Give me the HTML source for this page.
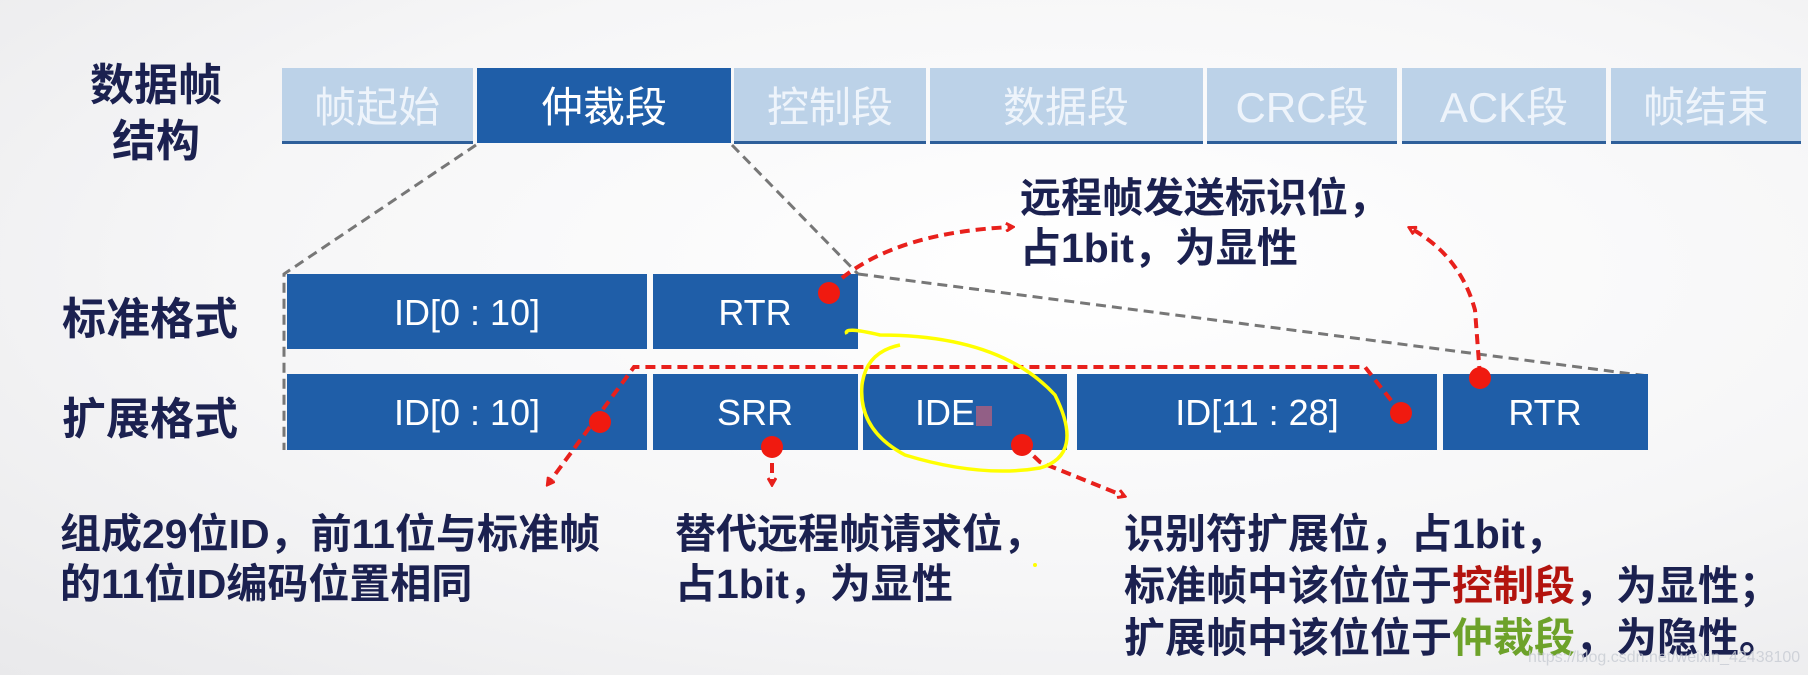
<!DOCTYPE html>
<html><head><meta charset="utf-8"><style>
html,body{margin:0;padding:0;}
body{width:1808px;height:675px;overflow:hidden;background:radial-gradient(ellipse at 60% 40%,#ffffff 0%,#f6f6f7 55%,#e9e9eb 100%);}
svg{display:block;}
text{font-family:"Liberation Sans","Noto Sans CJK SC",sans-serif;}
</style></head><body>
<svg width="1808" height="675" viewBox="0 0 1808 675" xmlns="http://www.w3.org/2000/svg">
<defs>
<marker id="ar" markerWidth="10" markerHeight="10" refX="7" refY="5" orient="auto" markerUnits="userSpaceOnUse">
<path d="M1,1 L8,5 L1,9" fill="none" stroke="#e8201c" stroke-width="3"/>
</marker>
</defs>
<!-- left labels -->
<g font-weight="bold" fill="#1b2150" font-size="44">
<text x="90" y="100">数据帧</text>
<text x="112" y="156">结构</text>
<text x="62" y="334">标准格式</text>
<text x="62" y="434">扩展格式</text>
</g>
<!-- top bar -->
<g>
<rect x="282" y="68" width="191" height="75" fill="#bcd2e8"/>
<rect x="477" y="68" width="254" height="75" fill="#1f5ea8"/>
<rect x="734" y="68" width="192" height="75" fill="#bcd2e8"/>
<rect x="930" y="68" width="273" height="75" fill="#bcd2e8"/>
<rect x="1207" y="68" width="190" height="75" fill="#bcd2e8"/>
<rect x="1402" y="68" width="204" height="75" fill="#bcd2e8"/>
<rect x="1611" y="68" width="190" height="75" fill="#bcd2e8"/>
<g fill="#2e5f9a">
<rect x="282" y="141" width="191" height="3"/><rect x="734" y="141" width="192" height="3"/>
<rect x="930" y="141" width="273" height="3"/><rect x="1207" y="141" width="190" height="3"/>
<rect x="1402" y="141" width="204" height="3"/><rect x="1611" y="141" width="190" height="3"/>
</g>
<g font-size="42" fill="#ffffff" text-anchor="middle">
<text x="377" y="122" fill="#eef4fb">帧起始</text>
<text x="604" y="122">仲裁段</text>
<text x="830" y="122" fill="#eef4fb">控制段</text>
<text x="1066" y="122" fill="#eef4fb">数据段</text>
<text x="1302" y="122" fill="#eef4fb">CRC段</text>
<text x="1504" y="122" fill="#eef4fb">ACK段</text>
<text x="1706" y="122" fill="#eef4fb">帧结束</text>
</g>
</g>
<!-- gray dashed guides -->
<g stroke="#777" stroke-width="3" stroke-dasharray="10,6" fill="none">
<path d="M476,145 L284,274 L284,450"/>
<path d="M732,145 L858,274"/>
<path d="M858,274 L1648,376"/>
</g>
<!-- rows -->
<g fill="#1f5ea8">
<rect x="287" y="274" width="360" height="75"/>
<rect x="653" y="274" width="205" height="75"/>
<rect x="287" y="374" width="360" height="76"/>
<rect x="653" y="374" width="205" height="76"/>
<rect x="863" y="374" width="204" height="76"/>
<rect x="1077" y="374" width="360" height="76"/>
<rect x="1443" y="374" width="205" height="76"/>
</g>
<g font-size="36" fill="#ffffff" text-anchor="middle">
<text x="467" y="325">ID[0 : 10]</text>
<text x="755" y="325">RTR</text>
<text x="467" y="425">ID[0 : 10]</text>
<text x="755" y="425">SRR</text>
<text x="945" y="425">IDE</text>
<text x="1257" y="425">ID[11 : 28]</text>
<text x="1545" y="425">RTR</text>
</g>
<!-- red dashed connectors -->
<g stroke="#e8201c" stroke-width="4" stroke-dasharray="10,6" fill="none" marker-end="url(#ar)">
<path d="M842,278 Q900,232 1012,227"/>
<path d="M1480,376 L1475,310 Q1460,255 1410,228"/>
<path d="M1401,413 L1365,367 L634,367 L548,484"/>
<path d="M772,447 L772,484"/>
<path d="M1022,445 L1040,462 L1124,496"/>
</g>
<g fill="#f01a10">
<circle cx="829" cy="293" r="11"/>
<circle cx="600" cy="422" r="11"/>
<circle cx="772" cy="447" r="11"/>
<circle cx="1022" cy="445" r="11"/>
<circle cx="1401" cy="413" r="11"/>
<circle cx="1480" cy="378" r="11"/>
</g>
<rect x="976" y="406" width="16" height="20" fill="#e06070" opacity="0.6"/>
<!-- yellow annotation -->
<path d="M847,334 Q842,326 880,335 Q1000,335 1055,395 Q1085,455 1040,468 Q980,478 905,455 Q858,430 862,385 Q866,352 900,345" fill="none" stroke="#ffff00" stroke-width="3.5"/>
<circle cx="1035" cy="565" r="2" fill="#ffff00"/>
<!-- annotation text -->
<g font-weight="bold" fill="#1b2150" font-size="41">
<text x="1020" y="212">远程帧发送标识位，</text>
<text x="1020" y="262">占1bit，为显性</text>
<text x="60" y="548">组成29位ID，前11位与标准帧</text>
<text x="60" y="598">的11位ID编码位置相同</text>
<text x="675" y="548">替代远程帧请求位，</text>
<text x="675" y="598">占1bit，为显性</text>
<text x="1124" y="548">识别符扩展位，占1bit，</text>
<text x="1124" y="600">标准帧中该位位于<tspan fill="#b3140e">控制段</tspan>，为显性；</text>
<text x="1124" y="652">扩展帧中该位位于<tspan fill="#6da22a">仲裁段</tspan>，为隐性。</text>
</g>
<text x="1528" y="662" font-size="16" fill="#c8ccd4" opacity="0.8">https://blog.csdn.net/weixin_42438100</text>
</svg>
</body></html>
